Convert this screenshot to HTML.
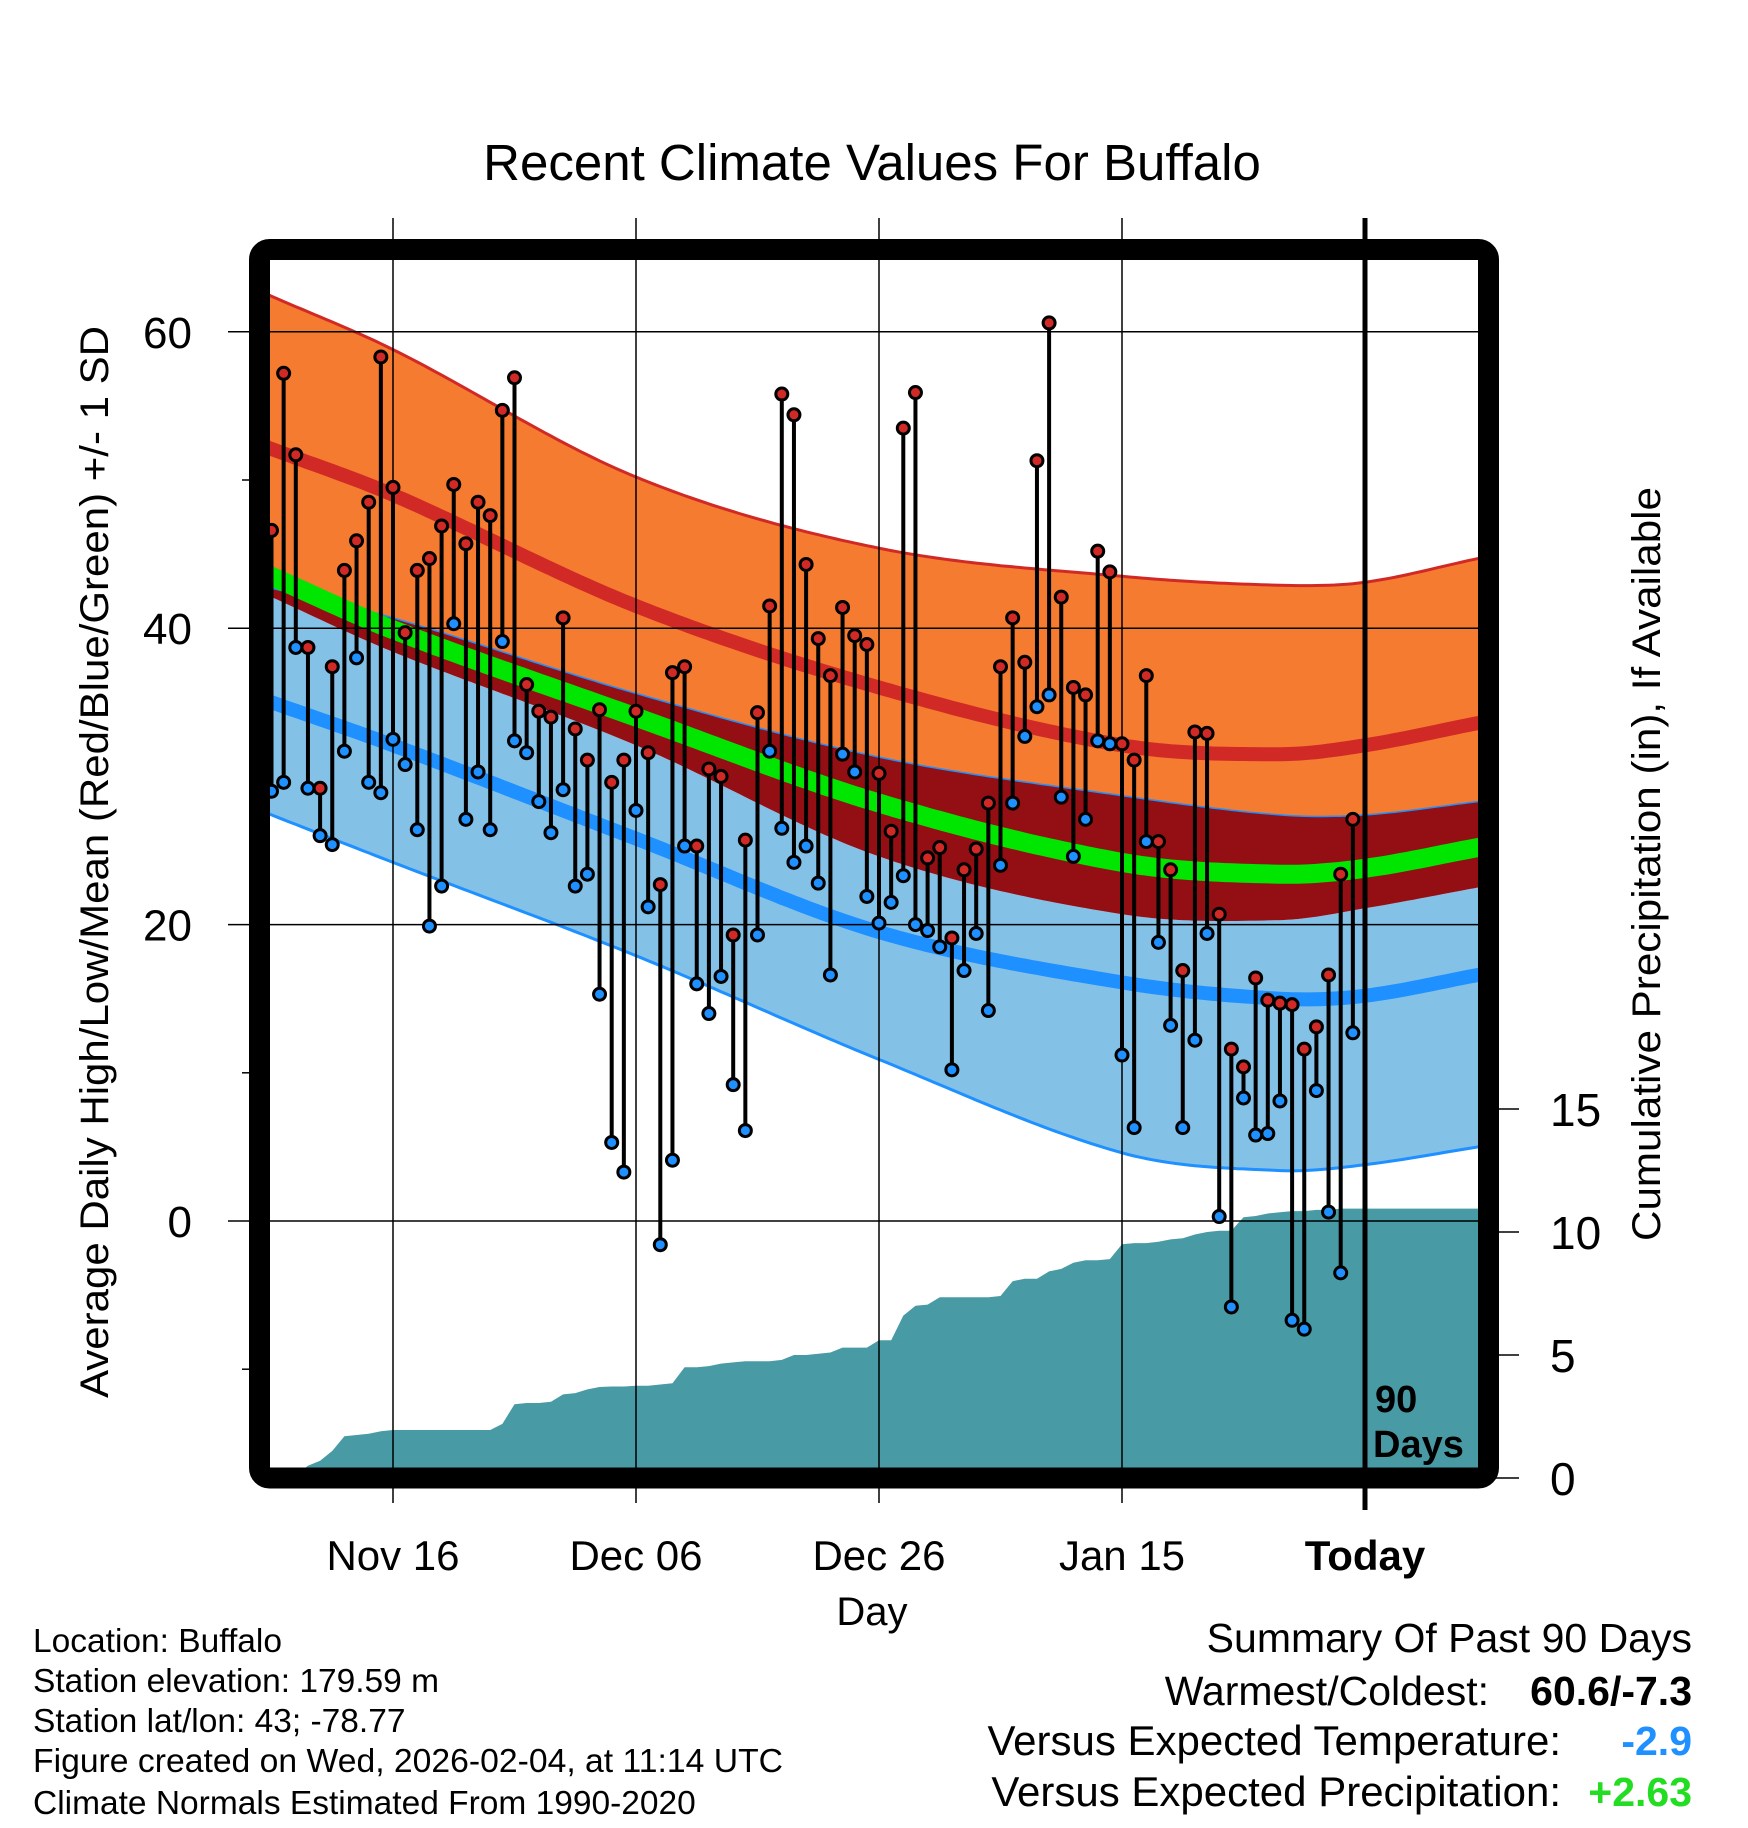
<!DOCTYPE html>
<html><head><meta charset="utf-8"><style>
html,body{margin:0;padding:0;background:#fff;}
svg{display:block;font-family:"Liberation Sans",sans-serif;}
</style></head><body>
<svg id="chart" width="1748" height="1828" viewBox="0 0 1748 1828">
<defs><clipPath id="pc"><rect x="270" y="260" width="1208" height="1208"/></clipPath></defs>
<g id="fills" clip-path="url(#pc)"></g>
<g id="grid"></g>
<g id="marks" clip-path="url(#pc)"></g>
<rect x="259.5" y="249.5" width="1229" height="1228.5" rx="10" fill="none" stroke="#000" stroke-width="21"/>
<text x="872" y="180" font-size="51" text-anchor="middle">Recent Climate Values For Buffalo</text>
<text transform="translate(108,862) rotate(-90)" font-size="40" text-anchor="middle" textLength="1072" lengthAdjust="spacingAndGlyphs">Average Daily High/Low/Mean (Red/Blue/Green) +/- 1 SD</text>
<text transform="translate(1660,864) rotate(-90)" font-size="40" text-anchor="middle" textLength="754" lengthAdjust="spacingAndGlyphs">Cumulative Precipitation (in), If Available</text>
<text x="872" y="1625" font-size="40" text-anchor="middle">Day</text>
<text x="1375" y="1412" font-size="38" font-weight="bold">90</text>
<text x="1373" y="1457" font-size="38" font-weight="bold">Days</text>
<g font-size="33.5">
<text x="33" y="1652">Location: Buffalo</text>
<text x="33" y="1692">Station elevation: 179.59 m</text>
<text x="33" y="1732">Station lat/lon: 43; -78.77</text>
<text x="33" y="1772" textLength="750" lengthAdjust="spacingAndGlyphs">Figure created on Wed, 2026-02-04, at 11:14 UTC</text>
<text x="33" y="1814">Climate Normals Estimated From 1990-2020</text>
</g>
<g font-size="41" text-anchor="end">
<text x="1692" y="1652">Summary Of Past 90 Days</text>
<text x="1489" y="1705">Warmest/Coldest:</text>
<text x="1692" y="1705" font-weight="bold">60.6/-7.3</text>
<text x="1561" y="1755" font-size="42">Versus Expected Temperature:</text>
<text x="1692" y="1755" font-weight="bold" fill="#1e90ff">-2.9</text>
<text x="1561" y="1806" font-size="42">Versus Expected Precipitation:</text>
<text x="1692" y="1806" font-weight="bold" fill="#22dd22">+2.63</text>
</g>
</svg>
<script>
const highs=[46.6,57.2,51.7,38.7,29.2,37.4,43.9,45.9,48.5,58.3,49.5,39.7,43.9,44.7,46.9,49.7,45.7,48.5,47.6,54.7,56.9,36.2,34.4,34.0,40.7,33.2,31.1,34.5,29.6,31.1,34.4,31.6,22.7,37.0,37.4,25.3,30.5,30.0,19.3,25.7,34.3,41.5,55.8,54.4,44.3,39.3,36.8,41.4,39.5,38.9,30.2,26.3,53.5,55.9,24.5,25.2,19.1,23.7,25.1,28.2,37.4,40.7,37.7,51.3,60.6,42.1,36.0,35.5,45.2,43.8,32.2,31.1,36.8,25.6,23.7,16.9,33.0,32.9,20.7,11.6,10.4,16.4,14.9,14.7,14.6,11.6,13.1,16.6,23.4,27.1];
const lows=[29.0,29.6,38.7,29.2,26.0,25.4,31.7,38.0,29.6,28.9,32.5,30.8,26.4,19.9,22.6,40.3,27.1,30.3,26.4,39.1,32.4,31.6,28.3,26.2,29.1,22.6,23.4,15.3,5.3,3.3,27.7,21.2,-1.6,4.1,25.3,16.0,14.0,16.5,9.2,6.1,19.3,31.7,26.5,24.2,25.3,22.8,16.6,31.5,30.3,21.9,20.1,21.5,23.3,20.0,19.6,18.5,10.2,16.9,19.4,14.2,24.0,28.2,32.7,34.7,35.5,28.6,24.6,27.1,32.4,32.2,11.2,6.3,25.6,18.8,13.2,6.3,12.2,19.4,0.3,-5.8,8.3,5.8,5.9,8.1,-6.7,-7.3,8.8,0.6,-3.5,12.7];
const precip=[0,0,0.1,0.5,0.7,1.1,1.7,1.75,1.8,1.9,1.95,1.95,1.95,1.95,1.95,1.95,1.95,1.95,1.95,2.2,3.0,3.05,3.05,3.1,3.4,3.45,3.6,3.7,3.72,3.72,3.75,3.75,3.8,3.85,4.5,4.5,4.55,4.65,4.7,4.75,4.75,4.75,4.8,5.0,5.0,5.05,5.1,5.3,5.3,5.3,5.6,5.6,6.6,7.0,7.05,7.35,7.35,7.35,7.35,7.35,7.4,8.0,8.1,8.1,8.4,8.5,8.75,8.85,8.85,8.9,9.5,9.55,9.55,9.6,9.7,9.75,9.9,10.0,10.05,10.05,10.6,10.65,10.75,10.8,10.85,10.85,10.9,10.9,10.95,10.95];
const normDays=[0,10,30,50,70,83,90,99.3];
const normUpper=[62.4,58.8,50.2,45.4,43.5,42.9,43.1,44.7];
const normHigh=[52.1,49.0,41.5,36.0,32.1,31.5,32.1,33.6];
const normHighMinusSD=[42.7,40.7,35.6,31.3,28.7,27.4,27.4,28.3];
const normMean=[43.5,39.9,34.0,28.2,24.2,23.4,23.8,25.2];
const normLowPlusSD=[42.1,38.4,32.1,24.6,20.7,20.3,21.1,22.5];
const normLow=[35.0,32.1,25.8,19.5,16.1,15.0,15.2,16.6];
const normLowerSD=[27.4,24.2,17.9,10.9,4.6,3.4,3.8,5.0];
const tempTicks=[60,40,20,0];
const tempMinor=[50,10,-10];
const precipTicks=[0,5,10,15];
const dateLabels=["Nov 16","Dec 06","Dec 26","Jan 15","Today"];
const dateDays=[10,30,50,70,90];

const NS="http://www.w3.org/2000/svg";
const X=d=>393+(d-10)*12.15;
const YT=t=>1221-t*14.82;
const YP=p=>1478-p*24.6;
function el(tag,attrs,parent){const e=document.createElementNS(NS,tag);for(const k in attrs)e.setAttribute(k,attrs[k]);parent.appendChild(e);return e;}
function slope(arr,i){const n=arr.length;
 if(i===0)return (arr[1]-arr[0])/(normDays[1]-normDays[0]);
 if(i===n-1)return (arr[n-1]-arr[n-2])/(normDays[n-1]-normDays[n-2]);
 return (arr[i+1]-arr[i-1])/(normDays[i+1]-normDays[i-1]);}
function interp(arr,d){const n=normDays.length;
 if(d<=normDays[0])return arr[0]+slope(arr,0)*(d-normDays[0]);
 if(d>=normDays[n-1])return arr[n-1]+slope(arr,n-1)*(d-normDays[n-1]);
 let i=0;while(d>normDays[i+1])i++;
 const h=normDays[i+1]-normDays[i],t=(d-normDays[i])/h;
 const m0=slope(arr,i)*h,m1=slope(arr,i+1)*h;
 const t2=t*t,t3=t2*t;
 return (2*t3-3*t2+1)*arr[i]+(t3-2*t2+t)*m0+(-2*t3+3*t2)*arr[i+1]+(t3-t2)*m1;}
const samples=[];for(let d=-1;d<=100;d+=0.5)samples.push(d);
function line(arr){return samples.map(d=>X(d).toFixed(1)+","+YT(interp(arr,d)).toFixed(1));}
function band(top,bot){return line(top).concat(line(bot).reverse()).join(" ");}
const fills=document.getElementById('fills');
let e;
e=el('polygon',{points:band(normUpper,normHighMinusSD),fill:'#f47b30'},fills);

e=el('polygon',{points:band(normLowPlusSD,normLowerSD),fill:'#84c1e6'},fills);

e=el('polygon',{points:band(normHighMinusSD,normLowPlusSD),fill:'#930f14'},fills);

e=el('polyline',{points:line(normUpper).join(" "),fill:'none',stroke:'#d12a26','stroke-width':3},fills);

e=el('polyline',{points:line(normHighMinusSD).join(" "),fill:'none',stroke:'#1e90ff','stroke-width':1.5},fills);

e=el('polyline',{points:line(normLowerSD).join(" "),fill:'none',stroke:'#1e90ff','stroke-width':3},fills);

e=el('polyline',{points:line(normHigh).join(" "),fill:'none',stroke:'#d12a26','stroke-width':14},fills);

e=el('polyline',{points:line(normLow).join(" "),fill:'none',stroke:'#1e90ff','stroke-width':14},fills);

e=el('polyline',{points:line(normMean).join(" "),fill:'none',stroke:'#00e600','stroke-width':19},fills);

let pp=["270,"+YP(0)];
precip.forEach((p,i)=>pp.push(X(i).toFixed(1)+","+YP(p).toFixed(1)));
pp.push("1480,"+YP(precip[precip.length-1]).toFixed(1));pp.push("1480,"+YP(0));
e=el('polygon',{points:pp.join(" "),fill:'#489ba4'},fills);


const grid=document.getElementById('grid');
tempTicks.forEach(t=>{
 e=el('line',{x1:228,x2:1478,y1:YT(t),y2:YT(t),stroke:'#000','stroke-width':1.5},grid);
 
 e=el('text',{x:192,y:YT(t)+16,'font-size':44,'text-anchor':'end'},grid);e.textContent=t;
 
});
tempMinor.forEach(t=>{
 e=el('line',{x1:242,x2:256,y1:YT(t),y2:YT(t),stroke:'#000','stroke-width':1.5},grid);
 
});
precipTicks.forEach(p=>{
 e=el('line',{x1:1490,x2:1519,y1:YP(p),y2:YP(p),stroke:'#000','stroke-width':1.5},grid);
 
 e=el('text',{x:1550,y:YP(p)+17,'font-size':46},grid);e.textContent=p;
 
});
dateDays.forEach((d,i)=>{
 const today=dateLabels[i]==="Today";
 if(!today){e=el('line',{x1:X(d),x2:X(d),y1:218,y2:1503,stroke:'#000','stroke-width':1.5},grid);
 }
 e=el('text',{x:X(d),y:1570,'font-size':42,'text-anchor':'middle','font-weight':today?'bold':'normal'},grid);e.textContent=dateLabels[i];
 
});
e=el('line',{x1:X(90),x2:X(90),y1:218,y2:1510,stroke:'#000','stroke-width':5},grid);


const marks=document.getElementById('marks');
highs.forEach((h,i)=>{
 const x=X(i),l=lows[i];
 e=el('line',{x1:x,x2:x,y1:YT(h),y2:YT(l),stroke:'#000','stroke-width':4},marks);
 
});
highs.forEach((h,i)=>{
 const x=X(i),l=lows[i];
 e=el('circle',{cx:x,cy:YT(l),r:6,fill:'#1e90ff',stroke:'#000','stroke-width':3},marks);
 
 e=el('circle',{cx:x,cy:YT(h),r:6,fill:'#d12a26',stroke:'#000','stroke-width':3},marks);
 
});
</script>
</body></html>
